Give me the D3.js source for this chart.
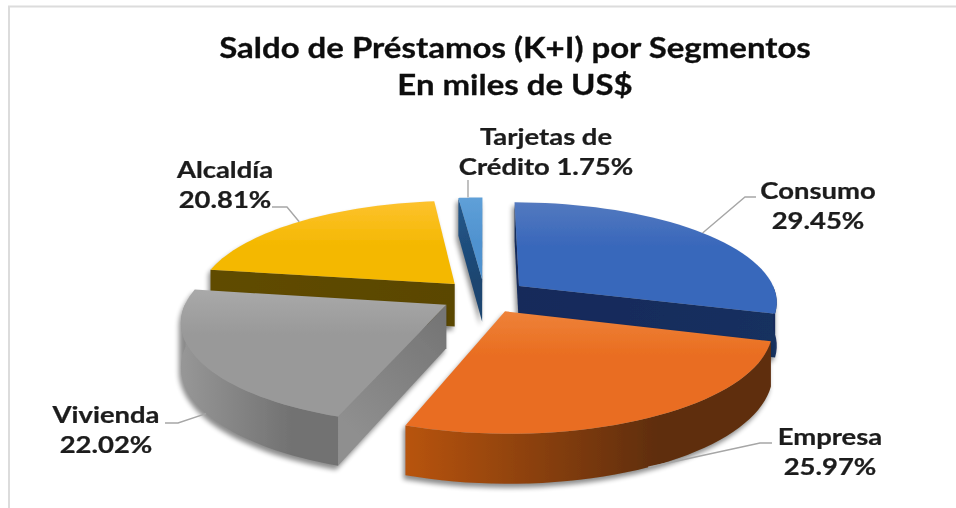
<!DOCTYPE html>
<html><head><meta charset="utf-8">
<script src="https://cdn.jsdelivr.net/npm/d3@7/dist/d3.min.js"></script>
<style>html,body{margin:0;padding:0;background:#fff}svg{display:block}</style>
</head><body><svg id="c" width="956" height="508"></svg>
<script>
const titleLines = ["Saldo de Préstamos (K+I) por Segmentos", "En miles de US$"];
const segments = ["Consumo", "Empresa", "Vivienda", "Alcaldía", "Tarjetas de Crédito"];
const shares = [29.45, 25.97, 22.02, 20.81, 1.75];
const labelLines = [["Consumo","29.45%"],["Empresa","25.97%"],["Vivienda","22.02%"],["Alcaldía","20.81%"],["Tarjetas de","Crédito 1.75%"]];
const drawOrder = [4, 3, 0, 2, 1];
const topLight = ["#5379bf","#ee8239","#a9a9a9","#fdc22e","#5fa0d8"];
const topDark  = ["#3867bb","#e96d20","#999999","#f4b800","#4f92cf"];
const wallA    = ["#12295a","#b8540f","#979797","#5c4800","#2a5f93"];
const wallB    = ["#12295a","#5e2d08","#727272","#5c4800","#1b4570"];
const sideA    = ["#16305f","#a04a10","#8f8f8f","#604c00","#24598c"];
const sideB    = ["#12295a","#5e2d08","#737373","#5a4600","#1b4570"];
// annotation layout
const labelLayout = [
  {x:818,y:199,elbow:[745,197],stub:[756,197],wall:0,along:0.5},
  {x:830,y:445,elbow:[760,443],stub:[772,443],wall:1,along:0.5},
  {x:106,y:423,elbow:[178,423],stub:[165,423],wall:1,along:0.46},
  {x:225,y:178,elbow:[287,207],stub:[272,207],wall:0,along:0.5},
  {x:546,y:145,elbow:null,stub:[468,180],wall:0,along:0.5}
];
const W = 956, H = 508;
const cx = 484.5, cy = 296, rx = 258, ry = 99, persp = 0.15, explode = 0.17, depth = 43;
const titleStretch = 1.157, labelStretch = 1.22;

const svg = d3.select("#c");
const defs = svg.append("defs");
const blur = defs.append("filter").attr("id","soft").attr("x","-10%").attr("y","-10%").attr("width","120%").attr("height","120%");
blur.append("feGaussianBlur").attr("stdDeviation",0.6);
const shadow = defs.append("filter").attr("id","shadow").attr("x","-20%").attr("y","-20%").attr("width","140%").attr("height","140%");
shadow.append("feGaussianBlur").attr("stdDeviation",2.5);
const txt = defs.append("filter").attr("id","txt");
txt.append("feGaussianBlur").attr("stdDeviation",0.35);

const scaleU = d3.scaleLinear().domain([0,1]).range([0,rx]);
const scaleV = d3.scaleLinear().domain([0,1]).range([0,ry]);
const pie = d3.pie().sort(null).value(d=>d).startAngle(0).endAngle(2*Math.PI);
const arcs = pie(shares);

function project(a, r, mid, drop){
  const u = explode*Math.sin(mid) + r*Math.sin(a);
  const v = -explode*Math.cos(mid) - r*Math.cos(a);
  const s = 1/(1 - persp*v);
  return [cx + scaleU(u)*s, cy + scaleV(v)*s + drop*depth*Math.pow(s,0.8)];
}
const line = d3.line();
const area2 = pts => line(pts)+"Z";
const signed = q => d3.polygonArea(q);

svg.append("rect").attr("x",9).attr("y",6.5).attr("width",W).attr("height",H).attr("fill","#fff").attr("stroke","#dcdcdc").attr("stroke-width",2);

function grad(id, x1,y1,x2,y2, c1,c2){
  const g = defs.append("linearGradient").attr("id",id).attr("gradientUnits","userSpaceOnUse")
    .attr("x1",x1).attr("y1",y1).attr("x2",x2).attr("y2",y2);
  g.append("stop").attr("offset",0).attr("stop-color",c1);
  g.append("stop").attr("offset",1).attr("stop-color",c2);
  return `url(#${id})`;
}

const marks = svg.append("g");
drawOrder.forEach(i=>{
  const d = arcs[i], mid = (d.startAngle+d.endAngle)/2;
  const a0 = d.startAngle, a1 = d.endAngle;
  const angles = d3.range(41).map(k=>a0+(a1-a0)*k/40);
  const topRim = angles.map(a=>project(a,1,mid,0));
  const botRim = angles.map(a=>project(a,1,mid,1));
  const apexT = project(0,0,mid,0), apexB = project(0,0,mid,1);
  const g = marks.append("g");

  const outline = d3.polygonHull([...topRim,...botRim,apexT,apexB]);
  g.append("path").attr("d",area2(outline.map(p=>[p[0]-2,p[1]+4]))).attr("fill","#000").attr("opacity",0.45).attr("filter","url(#shadow)");

  const body = g.append("g").attr("filter","url(#soft)");

  [[a1,+1],[a0,-1]].forEach(([a,sgn],k)=>{
    const rimT = project(a,1,mid,0), rimB = project(a,1,mid,1);
    const q = [apexT,rimT,rimB,apexB];
    if (signed(q)*sgn > 0) return;
    const fill = grad(`side${i}${k}`, apexT[0],apexT[1],rimT[0],rimT[1], sideB[i], sideA[i]);
    body.append("path").attr("d",area2(q)).attr("fill",fill);
  });

  const vis = angles.filter(a=>Math.cos(a)<0.02);
  if (vis.length>1){
    const t = vis.map(a=>project(a,1,mid,0)), b = vis.map(a=>project(a,1,mid,1));
    const xs = t.map(p=>p[0]);
    const x0 = d3.min(xs), x1 = d3.max(xs);
    const fill = grad(`wall${i}`, x0,0,x0+(x1-x0)*0.7,0, wallA[i], wallB[i]);
    body.append("path").attr("d",area2([...t,...b.reverse()])).attr("fill",fill);
  }

  const ys = [...topRim,apexT].map(p=>p[1]);
  const fill = grad(`top${i}`,0,d3.min(ys),0,d3.min(ys)+45,topLight[i],topDark[i]);
  body.append("path").attr("d",area2([apexT,...topRim])).attr("fill",fill);
});

const leaders = svg.append("g").attr("fill","none").attr("stroke","#a6a6a6").attr("stroke-width",1.4).attr("filter","url(#txt)");
arcs.forEach((d,i)=>{
  const mid=(d.startAngle+d.endAngle)/2, L=labelLayout[i];
  const end = project(d.startAngle+(d.endAngle-d.startAngle)*L.along,1,mid,L.wall);
  const pts = L.elbow ? [L.stub,L.elbow,end] : [L.stub,[L.stub[0],end[1]]];
  leaders.append("path").attr("d",line(pts));
});

const textG = svg.append("g").attr("filter","url(#txt)").attr("font-family","Lato, Carlito, sans-serif").attr("font-weight",700).attr("fill","#1c1c1c").attr("text-anchor","middle");
titleLines.forEach((t,i)=>{
  textG.append("text").attr("transform",`translate(515,${58+i*37}) scale(${titleStretch},1)`)
    .attr("font-size",28.5).attr("fill","#111").attr("stroke","#111").attr("stroke-width",0.3).text(t);
});
labelLines.forEach((ls,i)=>{
  ls.forEach((t,j)=>{
    textG.append("text").attr("transform",`translate(${labelLayout[i].x},${labelLayout[i].y+j*30}) scale(${labelStretch},1)`)
      .attr("font-size",22.5).attr("stroke","#1c1c1c").attr("stroke-width",0.25).text(t);
  });
});
</script></body></html>
